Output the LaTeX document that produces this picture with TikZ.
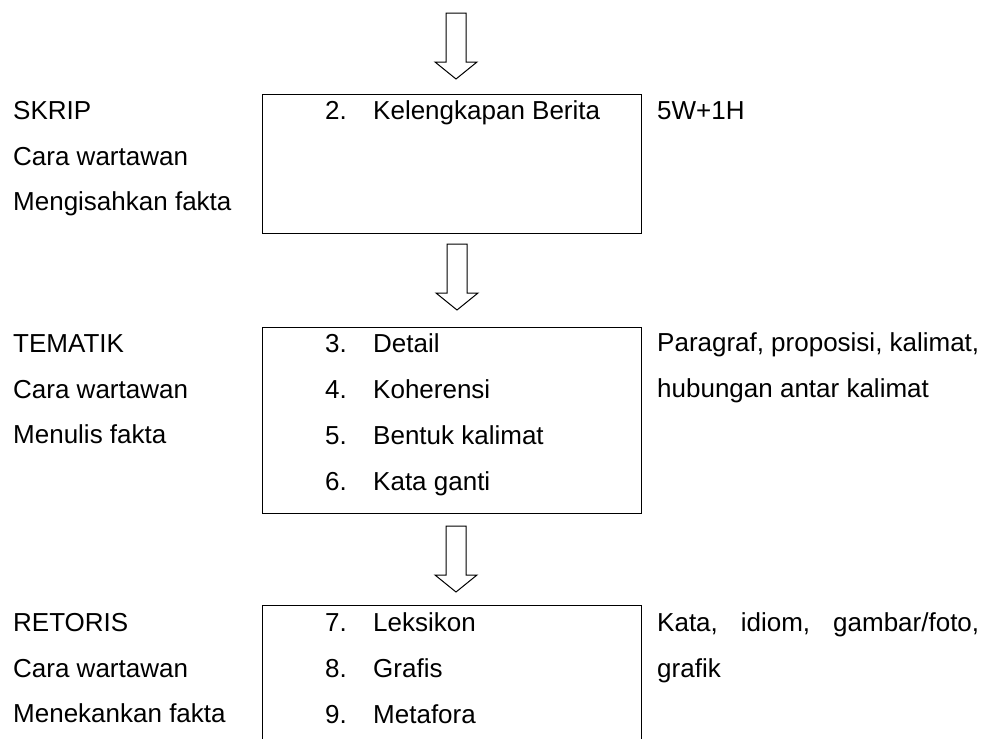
\documentclass[tikz,border=0pt]{standalone}
\usepackage{fontspec}
\setmainfont{Liberation Sans}
\begin{document}
\begin{tikzpicture}[x=1pt,y=-1pt,
  txt/.style={anchor=base west,inner sep=0pt,font=\fontsize{26}{30}\selectfont},
  boxst/.style={draw=black,line width=1pt,anchor=north west,minimum width=379pt,inner sep=0pt},
  blockarrow/.style={draw=black,line width=1pt,line join=miter,fill=white}]
\useasboundingbox (0,0) rectangle (991,739);
\clip (0,0) rectangle (991,739);
% boxes
\node[boxst,minimum height=139pt] (b1) at (262,94) {};
\node[boxst,minimum height=186pt] (b2) at (262,327) {};
\node[boxst,minimum height=200pt] (b3) at (262,605) {};
% block arrows
\coordinate (a1) at (456,13);
\coordinate (a2) at (457,244);
\coordinate (a3) at (456,526);
\foreach \a in {a1,a2,a3}{
  \draw[blockarrow] (\a) ++(-10,0) -- ++(0,49) -- ++(-11,0) -- ++(21,17) -- ++(21,-17) -- ++(-11,0) -- ++(0,-49) -- cycle;
}
% left column
\node[txt] (l1a) at (13,119) {SKRIP};
\node[txt] (l1b) at (13,165) {Cara wartawan};
\node[txt] (l1c) at (13,210) {Mengisahkan fakta};
\node[txt] (l2a) at (13,352) {TEMATIK};
\node[txt] (l2b) at (13,398) {Cara wartawan};
\node[txt] (l2c) at (13,443) {Menulis fakta};
\node[txt] (l3a) at (13,631) {RETORIS};
\node[txt] (l3b) at (13,677) {Cara wartawan};
\node[txt] (l3c) at (13,722) {Menekankan fakta};
% box items
\node[txt] (n2) at (325,119) {2.};
\node[txt] (t2) at (373,119) {Kelengkapan Berita};
\node[txt] (n3) at (325,352) {3.};
\node[txt] (t3) at (373,352) {Detail};
\node[txt] (n4) at (325,398) {4.};
\node[txt] (t4) at (373,398) {Koherensi};
\node[txt] (n5) at (325,444) {5.};
\node[txt] (t5) at (373,444) {Bentuk kalimat};
\node[txt] (n6) at (325,490) {6.};
\node[txt] (t6) at (373,490) {Kata ganti};
\node[txt] (n7) at (325,631) {7.};
\node[txt] (t7) at (373,631) {Leksikon};
\node[txt] (n8) at (325,677) {8.};
\node[txt] (t8) at (373,677) {Grafis};
\node[txt] (n9) at (325,723) {9.};
\node[txt] (t9) at (373,723) {Metafora};
% right column
\node[txt] (r1) at (657,119) {5W+1H};
\node[txt] (r2a) at (657,351) {\makebox[322pt][s]{Paragraf, proposisi, kalimat,}};
\node[txt] (r2b) at (657,397) {hubungan antar kalimat};
\node[txt] (r3a) at (657,631) {\makebox[322pt][s]{Kata, idiom, gambar/foto,}};
\node[txt] (r3b) at (657,677) {grafik};
\end{tikzpicture}
\end{document}
